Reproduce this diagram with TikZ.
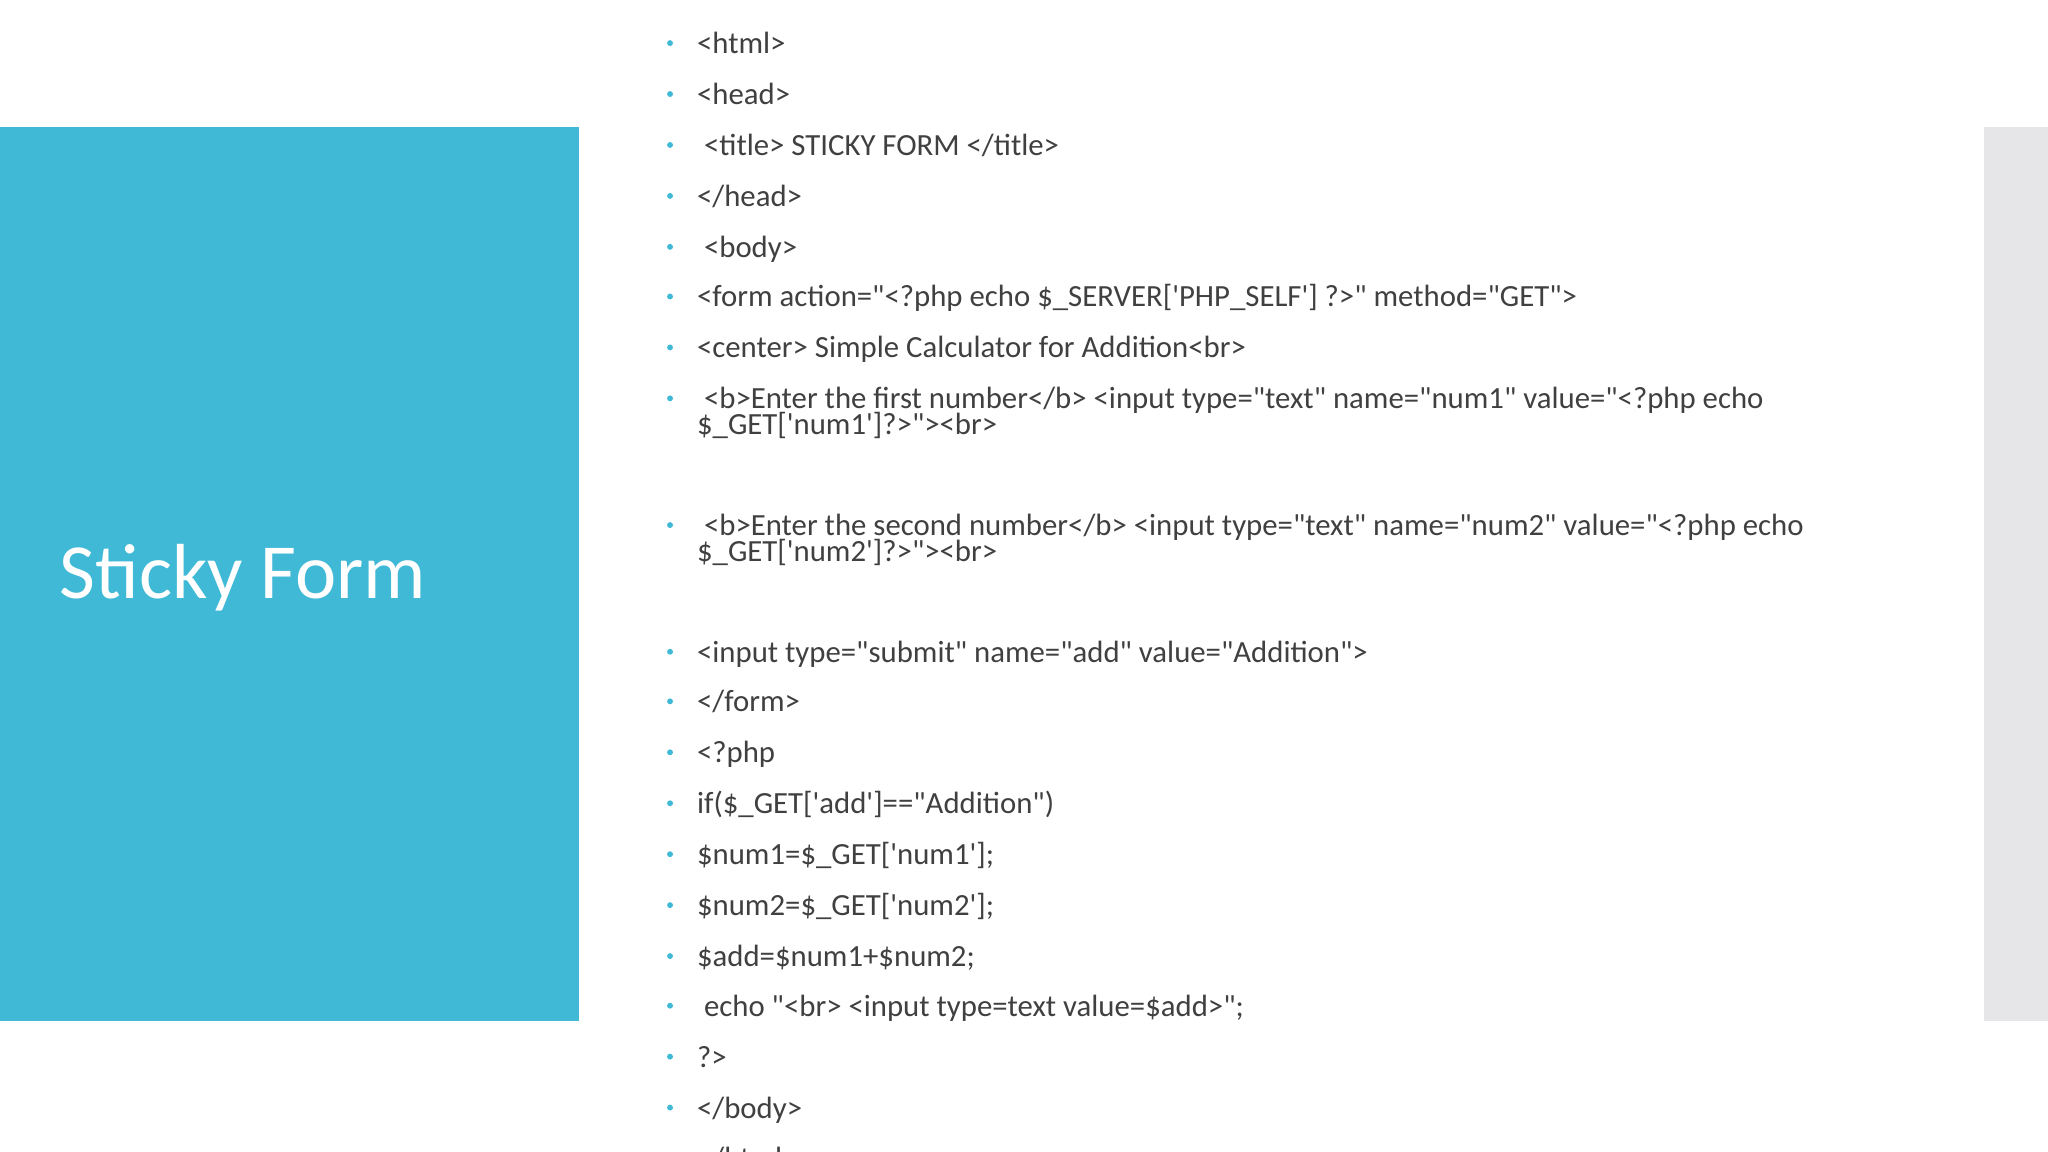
\documentclass[tikz,border=0pt]{standalone}
\usepackage{fontspec}
\setmainfont{Carlito}
\newcommand\q{\textquotesingle}
\newcommand\dq{\textquotedbl}
\definecolor{tealb}{HTML}{3FB9D6}
\definecolor{grayb}{HTML}{E6E6E8}
\definecolor{txt}{HTML}{404040}
\begin{document}
\begin{tikzpicture}[x=0.01cm,y=-0.01cm,
  code/.style={anchor=base west,inner sep=0,font=\fontsize{6.7pt}{8pt}\selectfont,text=txt},
  dot/.style={fill=tealb,circle,inner sep=0,minimum size=0.045cm}]
\useasboundingbox (0,0) rectangle (1568,882);
\clip (0,0) rectangle (1568,882);
\fill[white] (0,0) rectangle (1568,882);
\fill[tealb] (0,97) rectangle (443,782);
\fill[grayb] (1519,97) rectangle (1568,782);
\node[anchor=base west,inner sep=0,text=white,font=\fontsize{17pt}{19pt}\selectfont] (title) at (45,458) {Sticky Form};
\foreach \y/\t [count=\i] in {
 34/{<html>},
 73/{<head>},
 112/{\ <title> STICKY FORM </title>},
 151/{</head>},
 190/{\ <body>},
 228/{<form action=\dq<?php echo \$\_SERVER[\q PHP\_SELF\q] ?>\dq\ method=\dq GET\dq>},
 267/{<center> Simple Calculator for Addition<br>},
 306/{\ <b>Enter the first number</b> <input type=\dq text\dq\ name=\dq num1\dq\ value=\dq<?php echo},
 403/{\ <b>Enter the second number</b> <input type=\dq text\dq\ name=\dq num2\dq\ value=\dq<?php echo},
 500/{<input type=\dq submit\dq\ name=\dq add\dq\ value=\dq Addition\dq>},
 538/{</form>},
 577/{<?php},
 616/{if(\$\_GET[\q add\q]==\dq Addition\dq)},
 655/{\$num1=\$\_GET[\q num1\q];},
 694/{\$num2=\$\_GET[\q num2\q];},
 733/{\$add=\$num1+\$num2;},
 771/{\ echo \dq<br> <input type=text value=\$add>\dq;},
 810/{?>},
 849/{</body>},
 888/{</html>}}{
  \node[dot] (b\i) at (513,\y-1) {};
  \node[code] (l\i) at (533,\y+7) {\t};
}
\node[code] (l8b) at (533,333) {\$\_GET[\q num1\q]?>\dq><br>};
\node[code] (l9b) at (533,430) {\$\_GET[\q num2\q]?>\dq><br>};
\end{tikzpicture}
\end{document}
